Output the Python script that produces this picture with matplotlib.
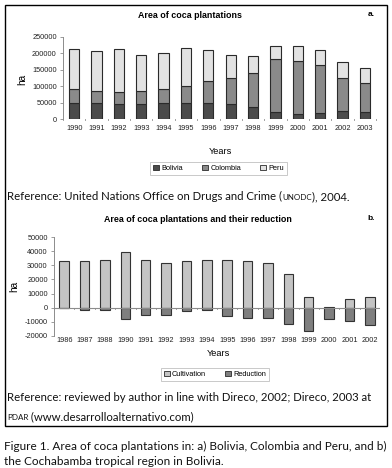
import matplotlib
matplotlib.use("Agg")
import matplotlib.pyplot as plt
from matplotlib.patches import Rectangle, Patch

# ---------------- data ----------------
years_a = ['1990', '1991', '1992', '1993', '1994', '1995', '1996',
           '1997', '1998', '1999', '2000', '2001', '2002', '2003']
bolivia = [50300, 47900, 45500, 47200, 48100, 48600, 48100,
           45800, 38000, 21800, 14600, 19900, 24400, 23600]
colombia = [40100, 37500, 37100, 39700, 44700, 50900, 67200,
            79400, 101800, 160100, 163300, 144800, 102000, 86000]
peru = [121300, 120800, 129100, 108800, 108600, 115300, 94400,
        68800, 51000, 38700, 43400, 46200, 46700, 44200]
yticks_a = [0, 50000, 100000, 150000, 200000, 250000]

years_b = ['1986', '1987', '1988', '1990', '1991', '1992', '1993', '1994',
           '1995', '1996', '1997', '1998', '1999', '2000', '2001', '2002']
cultivation = [32700, 32700, 33800, 39600, 33800, 31600, 32700, 33800,
               33800, 32700, 31600, 23500, 7500, 700, 6100, 7600]
reduction = [0, -1400, -1600, -8200, -5300, -5200, -2500, -1300,
             -5700, -7500, -7000, -11700, -16800, -8000, -9700, -12100]
yticks_b = [-20000, -10000, 0, 10000, 20000, 30000, 40000, 50000]

# ---------------- figure ----------------
W, H = 392, 468
DPI = 100
fig = plt.figure(figsize=(W / DPI, H / DPI), dpi=DPI)
fig.patch.set_facecolor('white')

def fx(x):
    return x / W

def fy(y):
    return 1 - y / H

def axrect(x0, y0, x1, y1):
    return [fx(x0), fy(y1), (x1 - x0) / W, (y1 - y0) / H]

CH = 'Liberation Sans'
TX = 'Lato'
TICK = 5.3
AXC = '#8c8c8c'

# outer border
fig.add_artist(Rectangle((fx(4.5), fy(425.5)), (386.5 - 4.5) / W, (425.5 - 4.5) / H,
                         transform=fig.transFigure, fill=False, edgecolor='black', lw=1.0))

def style_axes(ax, labels, n, pad):
    for s in ['top', 'right']:
        ax.spines[s].set_visible(False)
    ax.spines['left'].set_color(AXC)
    ax.spines['left'].set_linewidth(0.7)
    ax.spines['bottom'].set_visible(False)
    ax.set_xlim(-0.5, n - 0.5)
    ax.set_xticks(range(n))
    ax.set_xticklabels(labels, fontsize=TICK, family=CH, color='#222222')
    ax.tick_params(axis='x', which='major', length=0, pad=pad)
    ax.tick_params(axis='y', length=2.5, width=0.6, color=AXC, pad=2,
                   labelsize=TICK, labelcolor='#222222')
    for lab in ax.get_yticklabels():
        lab.set_family(CH)
    ax.set_facecolor('none')

# ---------------- chart a ----------------
ax1 = fig.add_axes(axrect(63, 36.7, 376, 119.3))
xa = list(range(len(years_a)))
bw = 0.46
ec = '#2a2a2a'
base2 = [b + c for b, c in zip(bolivia, colombia)]
ax1.bar(xa, bolivia, width=bw, color='#4b4b4b', edgecolor=ec, lw=0.8, label='Bolivia', zorder=3)
ax1.bar(xa, colombia, width=bw, bottom=bolivia, color='#8a8a8a', edgecolor=ec, lw=0.8, label='Colombia', zorder=3)
ax1.bar(xa, peru, width=bw, bottom=base2, color='#e2e2e2', edgecolor=ec, lw=0.8, label='Peru', zorder=3)
ax1.set_ylim(0, 250000)
ax1.set_yticks(yticks_a)
ax1.set_yticklabels([str(v) for v in yticks_a])
style_axes(ax1, years_a, len(years_a), 4)
ax1.axhline(0, color=AXC, lw=0.7, zorder=4)
for i in range(len(years_a) + 1):
    ax1.plot([i - 0.5, i - 0.5], [0, -2800], color=AXC, lw=0.6, clip_on=False, zorder=4)

fig.text(fx(190), fy(16), 'Area of coca plantations', family=CH, fontsize=6.4,
         fontweight='bold', ha='center', va='center')
fig.text(fx(371), fy(15), 'a.', family=CH, fontsize=6.0, fontweight='bold',
         ha='center', va='center')
fig.text(fx(22), fy(79), 'ha', family=CH, fontsize=7.2, rotation=90,
         ha='center', va='center')
fig.text(fx(220), fy(151), 'Years', family=CH, fontsize=6.6, ha='center', va='center')

h1 = [Patch(facecolor='#4b4b4b', edgecolor=ec, lw=0.6),
      Patch(facecolor='#8a8a8a', edgecolor=ec, lw=0.6),
      Patch(facecolor='#e2e2e2', edgecolor=ec, lw=0.6)]
leg1 = fig.legend(h1, ['Bolivia', 'Colombia', 'Peru'], loc='center',
                  bbox_to_anchor=(fx(218.5), fy(168.5)), ncol=3, frameon=True,
                  fancybox=False, edgecolor='#b0b0b0', prop={'family': CH, 'size': TICK},
                  handlelength=0.8, handleheight=0.8, handletextpad=0.3,
                  columnspacing=2.6, borderpad=0.45, borderaxespad=0)
leg1.get_frame().set_linewidth(0.6)

# ---------------- chart b ----------------
ax2 = fig.add_axes(axrect(54, 237, 380, 336))
xb = list(range(len(years_b)))
ax2.bar(xb, cultivation, width=0.47, color='#c4c4c4', edgecolor='#333333', lw=0.8,
        label='Cultivation', zorder=3)
ax2.bar(xb, reduction, width=0.47, color='#7f7f7f', edgecolor='#333333', lw=0.8,
        label='Reduction', zorder=3)
ax2.set_ylim(-20000, 50000)
ax2.set_yticks(yticks_b)
ax2.set_yticklabels([str(v) for v in yticks_b])
style_axes(ax2, years_b, len(years_b), 1)
ax2.axhline(0, color=AXC, lw=0.8, zorder=4)
for i in range(len(years_b) + 1):
    ax2.plot([i - 0.5, i - 0.5], [0, -900], color=AXC, lw=0.6, zorder=4)

fig.text(fx(198), fy(219), 'Area of coca plantations and their reduction', family=CH,
         fontsize=6.4, fontweight='bold', ha='center', va='center')
fig.text(fx(371), fy(219), 'b.', family=CH, fontsize=6.0, fontweight='bold',
         ha='center', va='center')
fig.text(fx(14), fy(286), 'ha', family=CH, fontsize=7.2, rotation=90,
         ha='center', va='center')
fig.text(fx(218), fy(353), 'Years', family=CH, fontsize=6.6, ha='center', va='center')

h2 = [Patch(facecolor='#c4c4c4', edgecolor=ec, lw=0.6),
      Patch(facecolor='#7f7f7f', edgecolor=ec, lw=0.6)]
leg2 = fig.legend(h2, ['Cultivation', 'Reduction'], loc='center',
                  bbox_to_anchor=(fx(215), fy(374.5)), ncol=2, frameon=True,
                  fancybox=False, edgecolor='#b0b0b0', prop={'family': CH, 'size': TICK},
                  handlelength=0.8, handleheight=0.8, handletextpad=0.3,
                  columnspacing=2.6, borderpad=0.45, borderaxespad=0)
leg2.get_frame().set_linewidth(0.6)

# ---------------- running text with small caps ----------------
renderer = fig.canvas.get_renderer()

def run(x, y, parts, size):
    """parts: list of (text, smallcaps_flag)"""
    cur = x
    for txt, sc in parts:
        s = size * 0.7 if sc else size
        t = fig.text(fx(cur), fy(y), txt, family=TX, fontsize=s, ha='left',
                     va='baseline', color='#111111')
        cur += t.get_window_extent(renderer).width
    return cur

TS = 8.2
run(7, 200, [('Reference: United Nations Office on Drugs and Crime (', False),
             ('UNODC', True), ('), 2004.', False)], TS)
run(7, 401, [('Reference: reviewed by author in line with Direco, 2002; Direco, 2003 at', False)], TS)
run(7, 420, [('PDAR', True), (' (www.desarrolloalternativo.com)', False)], TS)
run(4, 450, [('Figure 1. Area of coca plantations in: a) Bolivia, Colombia and Peru, and b)', False)], 8.45)
run(4, 465, [('the Cochabamba tropical region in Bolivia.', False)], 8.45)

fig.savefig('out.png', dpi=DPI, facecolor='white')
